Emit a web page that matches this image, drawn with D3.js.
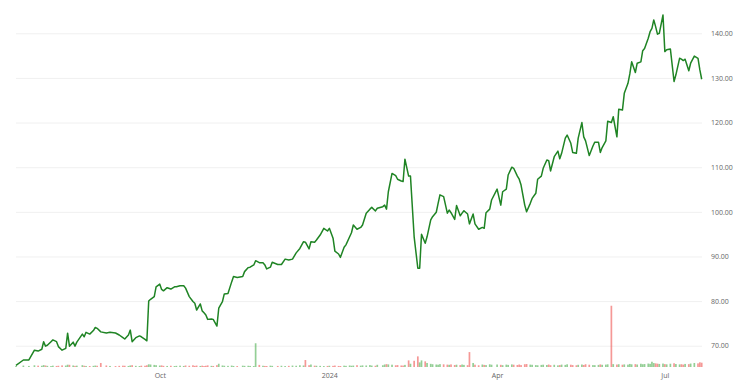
<!DOCTYPE html>
<html><head><meta charset="utf-8">
<script src="https://cdn.jsdelivr.net/npm/d3@7"></script>
<style>html,body{margin:0;padding:0;background:#fff;overflow:hidden;} svg{display:block;}</style>
</head><body>
<svg id="c" width="746" height="383"></svg>
<script>
const dates = [
"2023-07-15","2023-07-19","2023-07-22","2023-07-25","2023-07-27","2023-07-29","2023-07-30","2023-07-31","2023-08-01","2023-08-03",
"2023-08-04","2023-08-06","2023-08-07","2023-08-09","2023-08-11","2023-08-12","2023-08-13","2023-08-15","2023-08-16","2023-08-17",
"2023-08-20","2023-08-21","2023-08-22","2023-08-24","2023-08-26","2023-08-27","2023-08-28","2023-08-30","2023-09-02","2023-09-04",
"2023-09-07","2023-09-09","2023-09-11","2023-09-12","2023-09-14","2023-09-15","2023-09-16","2023-09-18","2023-09-20","2023-09-21",
"2023-09-23","2023-09-24","2023-09-25","2023-09-26","2023-09-28","2023-09-29","2023-10-01","2023-10-02","2023-10-03","2023-10-05",
"2023-10-07","2023-10-09","2023-10-10","2023-10-12","2023-10-14","2023-10-15","2023-10-17","2023-10-19","2023-10-20","2023-10-21",
"2023-10-23","2023-10-24","2023-10-25","2023-10-26","2023-10-27","2023-10-29","2023-10-30","2023-11-01","2023-11-02","2023-11-04",
"2023-11-05","2023-11-07","2023-11-09","2023-11-10","2023-11-12","2023-11-15","2023-11-16","2023-11-18","2023-11-19","2023-11-21",
"2023-11-22","2023-11-24","2023-11-26","2023-11-27","2023-11-28","2023-11-30","2023-12-01","2023-12-04","2023-12-06","2023-12-08",
"2023-12-10","2023-12-12","2023-12-14","2023-12-16","2023-12-18","2023-12-19","2023-12-21","2023-12-22","2023-12-24","2023-12-25",
"2023-12-27","2023-12-29","2023-12-31","2024-01-01","2024-01-03","2024-01-04","2024-01-06","2024-01-07","2024-01-09","2024-01-10",
"2024-01-12","2024-01-13","2024-01-14","2024-01-16","2024-01-18","2024-01-19","2024-01-21","2024-01-23","2024-01-24","2024-01-26",
"2024-01-27","2024-01-30","2024-01-31","2024-02-01","2024-02-02","2024-02-04","2024-02-06","2024-02-07","2024-02-09","2024-02-10",
"2024-02-11","2024-02-13","2024-02-14","2024-02-16","2024-02-18","2024-02-19","2024-02-20","2024-02-22","2024-02-23","2024-02-25",
"2024-02-26","2024-02-28","2024-02-29","2024-03-01","2024-03-03","2024-03-05","2024-03-06","2024-03-07","2024-03-09","2024-03-10",
"2024-03-12","2024-03-13","2024-03-14","2024-03-16","2024-03-17","2024-03-19","2024-03-20","2024-03-22","2024-03-24","2024-03-25",
"2024-03-26","2024-03-28","2024-03-29","2024-04-01","2024-04-03","2024-04-04","2024-04-06","2024-04-07","2024-04-09","2024-04-10",
"2024-04-12","2024-04-13","2024-04-14","2024-04-16","2024-04-17","2024-04-19","2024-04-20","2024-04-22","2024-04-23","2024-04-25",
"2024-04-26","2024-04-28","2024-04-29","2024-04-30","2024-05-02","2024-05-04","2024-05-05","2024-05-06","2024-05-08","2024-05-09",
"2024-05-11","2024-05-12","2024-05-14","2024-05-15","2024-05-17","2024-05-18","2024-05-19","2024-05-21","2024-05-23","2024-05-24",
"2024-05-26","2024-05-27","2024-05-28","2024-05-30","2024-05-31","2024-06-02","2024-06-03","2024-06-05","2024-06-06","2024-06-08",
"2024-06-09","2024-06-11","2024-06-12","2024-06-13","2024-06-15","2024-06-16","2024-06-18","2024-06-19","2024-06-20","2024-06-22",
"2024-06-23","2024-06-24","2024-06-25","2024-06-26","2024-06-27","2024-06-28","2024-06-30","2024-07-01","2024-07-02","2024-07-04",
"2024-07-06","2024-07-07","2024-07-09","2024-07-10","2024-07-11","2024-07-12","2024-07-14","2024-07-15","2024-07-17","2024-07-19",
"2024-07-20","2024-07-21"];

const prices = [
65.6,66.8,66.8,69.0,68.8,69.2,70.9,69.9,70.1,70.9,
71.3,70.9,69.8,69.0,69.4,72.8,69.9,70.8,69.9,70.8,
72.6,72.0,73.0,72.6,73.4,74.1,73.9,73.1,72.85,73.0,
72.85,72.4,71.8,71.5,72.4,73.5,70.9,71.8,72.2,72.0,
71.4,71.1,80.0,80.4,81.0,83.2,83.8,82.6,82.3,83.0,
82.7,83.2,83.2,83.45,83.45,82.9,81.0,79.9,79.5,78.0,
79.35,77.8,77.4,76.9,75.9,76.0,75.9,74.4,78.4,79.9,
81.6,81.7,84.3,85.5,85.3,85.5,86.6,87.5,87.6,88.1,
89.05,88.6,88.6,88.1,87.2,87.6,88.7,88.2,88.2,89.4,
89.2,89.4,90.8,91.8,93.3,93.2,91.7,93.3,93.2,93.7,
94.8,96.3,95.7,96.3,94.1,91.2,90.55,89.8,92.05,92.6,
94.4,95.3,97.05,96.1,96.5,97.05,99.7,100.6,101.0,100.2,
100.8,101.15,101.5,100.6,104.5,108.6,108.1,107.3,106.9,106.8,
111.8,108.0,108.0,94.4,87.35,87.35,94.96,92.95,94.4,98.2,
98.9,99.9,101.9,103.8,103.4,99.7,100.4,99.8,98.3,101.4,
99.1,99.7,100.25,99.5,97.3,99.5,97.3,96.1,96.5,96.3,
99.8,100.6,102.65,105.1,101.5,104.5,105.1,108.25,110.0,109.75,
108.0,107.3,106.0,101.5,100.0,101.9,103.0,104.15,107.3,108.0,
109.75,111.6,111.45,109.15,112.35,113.6,111.9,113.1,116.5,117.2,
115.35,113.3,113.1,116.5,120.0,116.8,115.9,112.6,114.75,115.6,
115.6,113.3,114.4,115.9,120.3,120.0,121.3,116.8,123.0,122.8,
126.55,128.8,130.9,133.6,131.2,133.3,133.6,136.1,136.6,138.9,
140.36,141.1,143.0,141.5,139.8,140.0,144.1,135.9,136.3,136.5,
129.2,130.7,134.4,134.2,133.9,134.2,131.6,133.3,134.9,134.4,
131.8,129.7];

const volumes = [
1.2,1.5,1.1,1.8,1.4,1.3,2.0,1.6,1.2,1.0,
1.4,1.1,1.3,1.7,1.5,2.4,2.3,1.6,1.2,1.4,
1.9,1.3,1.1,1.0,1.2,1.5,1.3,4.2,1.6,1.1,
1.0,1.2,1.4,1.3,1.1,1.6,1.9,1.2,1.0,1.4,
1.3,1.8,2.8,2.6,2.2,1.9,1.5,1.7,1.2,1.1,
1.3,1.0,1.2,1.4,1.1,1.6,1.3,1.8,1.2,1.5,
1.1,1.4,1.0,1.3,1.7,1.2,1.1,1.9,3.4,1.6,
1.3,1.2,1.5,1.1,1.0,1.4,1.2,1.3,1.1,1.0,
24.8,2.2,1.3,1.1,1.0,1.4,1.2,1.1,1.3,1.0,
1.2,1.5,1.3,1.8,1.6,7.3,1.9,2.6,1.4,1.3,
1.2,1.0,1.1,1.3,1.2,1.5,1.1,1.0,1.4,1.2,
1.6,1.3,1.5,1.9,1.4,1.7,1.6,2.0,1.5,1.3,
2.3,1.8,2.6,3.0,2.7,2.4,1.8,2.0,1.6,1.5,
2.2,6.9,3.4,6.5,11.1,4.8,6.9,5.9,4.2,3.3,
2.9,2.6,2.4,3.0,2.8,2.5,2.3,2.7,2.1,2.4,
2.0,2.6,2.2,1.9,15.6,4.2,2.4,1.8,2.6,2.2,
2.0,2.8,2.4,2.6,2.3,1.9,2.5,2.2,2.7,2.4,
2.1,2.6,2.0,2.9,3.1,2.5,2.3,2.0,1.8,2.2,
2.4,2.1,2.6,1.9,2.3,1.7,2.0,2.5,2.2,2.8,
2.4,2.0,1.8,2.3,2.6,2.1,2.9,2.4,2.0,1.9,
2.2,2.7,2.3,2.5,2.8,64.0,3.0,2.6,2.9,2.4,
2.7,2.5,3.2,2.8,3.0,2.6,3.4,2.9,3.1,3.6,
3.3,5.5,4.1,3.8,3.5,3.2,3.6,3.0,2.8,3.4,
3.9,3.1,2.7,2.9,2.5,3.2,3.0,3.6,4.2,3.8,
4.9,4.5];

const yTicks = [70, 80, 90, 100, 110, 120, 130, 140];
const xTickDates = ["2023-10-01", "2024-01-01", "2024-04-01", "2024-07-01"];

const parse = d3.timeParse("%Y-%m-%d");
const data = dates.map((d, i) => ({
  date: parse(d), price: prices[i], vol: volumes[i],
  up: i === 0 || prices[i] >= prices[i - 1]
}));

const svg = d3.select("#c");
const font = "'Open Sans', 'Liberation Sans', sans-serif";

const x = d3.scaleTime().domain(d3.extent(data, d => d.date)).range([16, 701.7]);
const y = d3.scaleLinear().domain([65.23, 146.34]).range([367, 5]);
const yv = d3.scaleLinear().domain([0, 70]).range([367, 300]);

// card border (faint)
svg.append("rect").attr("x", -4).attr("y", -4).attr("width", 753).attr("height", 390)
  .attr("rx", 10).attr("fill", "none").attr("stroke", "#ececec");

// y grid + labels
const gy = svg.append("g").attr("transform", "translate(16,0)")
  .call(d3.axisRight(y).tickValues(yTicks).tickSize(686).tickPadding(9).tickFormat(d3.format(".2f")));
gy.select(".domain").remove();
gy.selectAll(".tick line").attr("stroke", "#f0f0f0");
gy.selectAll(".tick text").attr("fill", "#666").style("font-family", font).style("font-size", "7px");

// x axis labels
const fmt = d => d.getMonth() === 0 ? d3.timeFormat("%Y")(d) : d3.timeFormat("%b")(d);
const gx = svg.append("g").attr("transform", "translate(0,367)")
  .call(d3.axisBottom(x).tickValues(xTickDates.map(parse)).tickSize(0).tickPadding(6.5).tickFormat(fmt));
gx.select(".domain").remove();
gx.selectAll(".tick text").attr("fill", "#666").style("font-family", font).style("font-size", "7px");

// volume bars
const bw = 1.7;
svg.append("g").selectAll("rect").data(data).join("rect")
  .attr("x", d => x(d.date) - bw / 2)
  .attr("y", d => yv(d.vol))
  .attr("width", bw)
  .attr("height", d => yv(0) - yv(d.vol))
  .attr("fill", d => d.up ? "rgba(76,175,80,0.6)" : "rgba(239,83,80,0.6)");

// price line
svg.append("path").datum(data)
  .attr("fill", "none").attr("stroke", "#1f8424").attr("stroke-width", 1.5)
  .attr("stroke-linejoin", "round")
  .attr("d", d3.line().x(d => x(d.date)).y(d => y(d.price)));
</script>
</body></html>
